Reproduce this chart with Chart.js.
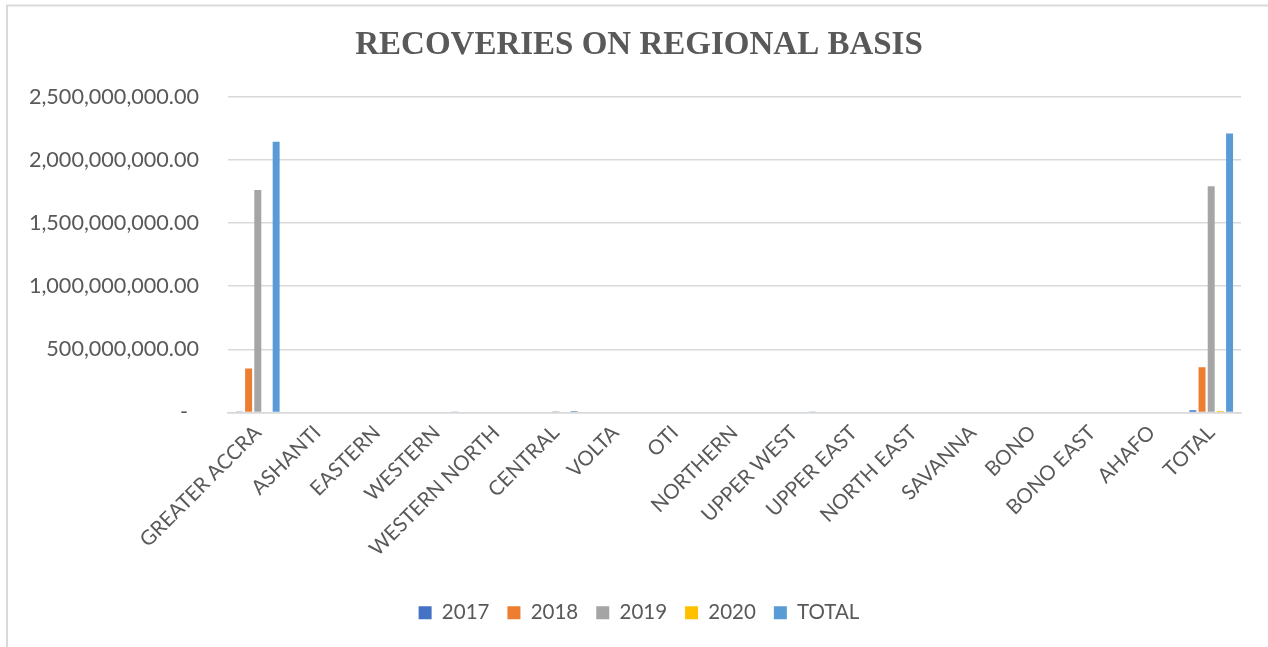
<!DOCTYPE html>
<html>
<head>
<meta charset="utf-8">
<script src="https://cdn.jsdelivr.net/npm/chart.js@4.4.1/dist/chart.umd.min.js"></script>
<style>
  html, body { margin: 0; padding: 0; background: #ffffff; }
  #wrap { position: absolute; left: 0; top: 0; width: 1268px; height: 647px; }
</style>
</head>
<body>
<div id="wrap"><canvas id="c" width="1268" height="647"></canvas></div>
<script>
const categories = ["GREATER ACCRA", "ASHANTI", "EASTERN", "WESTERN", "WESTERN NORTH", "CENTRAL", "VOLTA", "OTI", "NORTHERN", "UPPER WEST", "UPPER EAST", "NORTH EAST", "SAVANNA", "BONO", "BONO EAST", "AHAFO", "TOTAL"];
const seriesNames = ["2017", "2018", "2019", "2020", "TOTAL"];
const values2017 = [8000000, 0, 0, 0, 0, 0, 0, 0, 0, 0, 0, 0, 0, 0, 0, 0, 18000000];
const values2018 = [348000000, 0, 0, 0, 0, 0, 0, 0, 0, 0, 0, 0, 0, 0, 0, 0, 358000000];
const values2019 = [1760000000, 0, 0, 0, 0, 10000000, 0, 0, 0, 0, 0, 0, 0, 0, 0, 0, 1790000000];
const values2020 = [0, 0, 0, 0, 0, 0, 0, 0, 0, 0, 0, 0, 0, 0, 0, 0, 12000000];
const valuesTotal = [2142000000, 0, 0, 4000000, 0, 12000000, 0, 0, 0, 4000000, 0, 0, 0, 0, 0, 0, 2207000000];
const yTicks = [0, 500000000, 1000000000, 1500000000, 2000000000, 2500000000];
const colors = ["#4472C4", "#ED7D31", "#A5A5A5", "#FFC000", "#5B9BD5"];
const seriesValues = [values2017, values2018, values2019, values2020, valuesTotal];

const TEXT = "#595959";
const GRID = "#d9d9d9";

const framePlugin = {
  id: "frame",
  beforeDraw(chart) {
    const ctx = chart.ctx;
    ctx.save();
    ctx.strokeStyle = GRID;
    ctx.lineWidth = 2;
    ctx.beginPath();
    ctx.moveTo(7, 647);
    ctx.lineTo(7, 5.5);
    ctx.lineTo(1268, 5.5);
    ctx.stroke();
    ctx.restore();
  }
};

new Chart(document.getElementById("c"), {
  type: "bar",
  data: {
    labels: categories,
    datasets: seriesNames.map((name, i) => ({
      label: name,
      data: seriesValues[i],
      backgroundColor: colors[i],
      borderWidth: 0,
      categoryPercentage: 0.77,
      barPercentage: 0.76
    }))
  },
  options: {
    responsive: false,
    animation: false,
    devicePixelRatio: 1,
    layout: { padding: { left: 26, right: 16, top: 0, bottom: 14 } },
    plugins: {
      title: {
        display: true,
        text: "RECOVERIES ON REGIONAL BASIS",
        color: TEXT,
        font: { family: "Liberation Serif", size: 33, weight: "bold", lineHeight: 1.2 },
        padding: { top: 26, bottom: 31 }
      },
      legend: {
        display: true,
        position: "bottom",
        labels: {
          color: TEXT,
          font: { family: "Lato", size: 20.5 },
          boxWidth: 13,
          boxHeight: 13,
          padding: 18
        }
      },
      tooltip: { enabled: false }
    },
    scales: {
      x: {
        grid: { display: false, drawTicks: false },
        border: { display: true, color: GRID, width: 1.5 },
        ticks: {
          color: TEXT,
          font: { family: "Lato", size: 20.5 },
          minRotation: 45,
          maxRotation: 45,
          autoSkip: false,
          padding: 8
        },
        afterFit(s) { s.height = 172; }
      },
      y: {
        min: 0,
        max: 2500000000,
        afterBuildTicks(s) { s.ticks = yTicks.map(v => ({ value: v })); },
        grid: { color: GRID, lineWidth: 1.5, drawTicks: false },
        border: { display: false },
        ticks: {
          color: TEXT,
          font: { family: "Lato", size: 21.6 },
          padding: 29,
          callback(v) {
            if (v === 0) return "-  ";
            return Number(v).toLocaleString("en-US", { minimumFractionDigits: 2, maximumFractionDigits: 2 });
          }
        },
        afterFit(s) { s.width = 202; }
      },
      yPad: {
        position: "right",
        display: true,
        min: 0,
        max: 1,
        grid: { display: false, drawTicks: false },
        border: { display: false },
        ticks: { display: false },
        afterFit(s) { s.width = 11; }
      }
    }
  },
  plugins: [framePlugin]
});
</script>
</body>
</html>
